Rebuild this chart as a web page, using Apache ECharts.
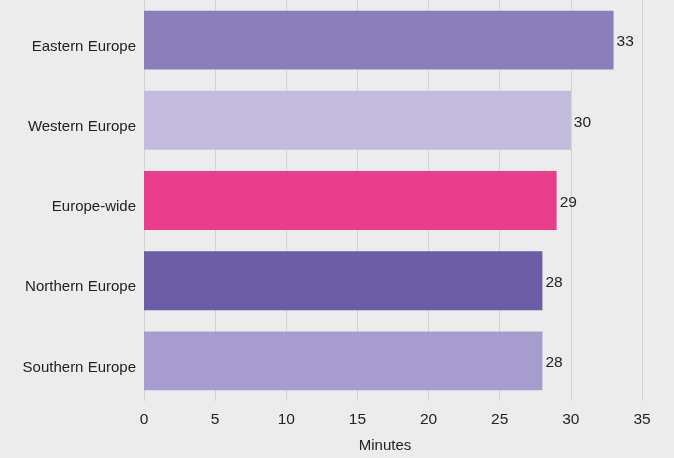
<!DOCTYPE html>
<html>
<head>
<meta charset="utf-8">
<script src="https://cdn.jsdelivr.net/npm/echarts@6/dist/echarts.min.js"></script>
<style>
html,body{margin:0;padding:0;background:#ececec;width:100%;height:100%;overflow:hidden;}
#c{width:674px;height:458px;position:absolute;left:0;top:0;}
</style>
</head>
<body>
<div id="c"></div>
<script>
var categories = ["Eastern Europe", "Western Europe", "Europe-wide", "Northern Europe", "Southern Europe"];
var values = [33, 30, 29, 28, 28];
var barColors = ["#8b7fbb", "#c2bbde", "#e83e8c", "#6c5ea6", "#a69dce"];
var xTicks = [0, 5, 10, 15, 20, 25, 30, 35];

var chart = echarts.init(document.getElementById('c'), null, {renderer: 'canvas'});
chart.setOption({
  backgroundColor: '#ececec',
  animation: false,
  textStyle: {fontFamily: 'Liberation Sans, Arial, sans-serif'},
  grid: {left: 144, right: 32, top: 0, bottom: 54, containLabel: false},
  xAxis: {
    type: 'value',
    min: xTicks[0],
    max: xTicks[xTicks.length - 1],
    interval: 5,
    name: 'Minutes',
    nameLocation: 'middle',
    nameGap: 37,
    nameTextStyle: {fontSize: 15, color: '#222', padding: [0, 16, 0, 0]},
    axisLine: {show: false},
    axisTick: {show: false},
    axisLabel: {fontSize: 15.5, color: '#222', margin: 11},
    splitLine: {show: true, lineStyle: {color: '#d2d2d2', width: 1}}
  },
  yAxis: {
    type: 'category',
    inverse: true,
    data: categories,
    axisLine: {show: false},
    axisTick: {show: false},
    axisLabel: {
      color: '#222', margin: 8,
      formatter: function (v) { return '{a|' + v + '}'; },
      rich: {a: {fontSize: 15, color: '#222', padding: [13, 0, 0, 0]}}
    }
  },
  series: [{
    type: 'bar',
    barWidth: '73.5%',
    data: values.map(function (v, i) {
      return {value: v, itemStyle: {color: barColors[i]}};
    }),
    label: {
      show: true,
      position: 'right',
      distance: 3,
      color: '#222',
      formatter: '{a|{c}}',
      rich: {a: {fontSize: 15.5, color: '#222', padding: [4, 0, 0, 0]}}
    }
  }]
});
</script>
</body>
</html>
